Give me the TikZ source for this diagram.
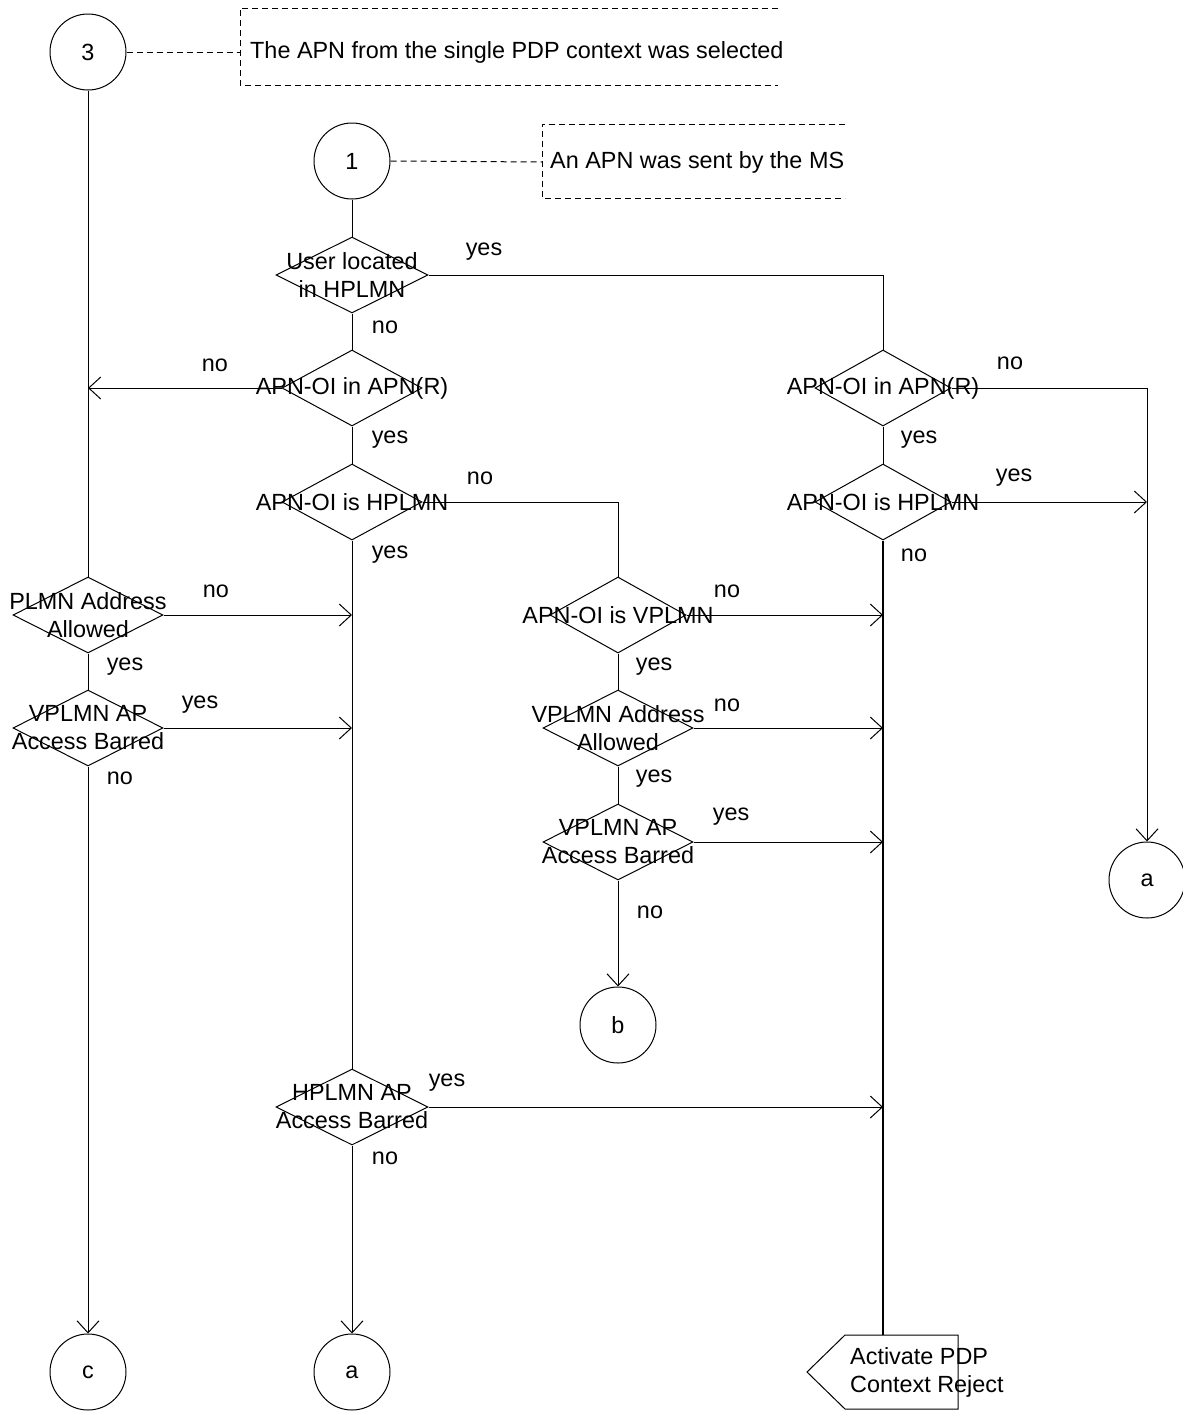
\documentclass[tikz,border=0pt]{standalone}
\usepackage{fontspec}
\setmainfont{Liberation Sans}
\usetikzlibrary{shapes.geometric,arrows.meta}
\begin{document}
\begin{tikzpicture}[x=1pt,y=-1pt,
  every node/.style={font=\fontsize{23.4}{28}\selectfont},
  conn/.style={line width=1pt},
  arr/.style={line width=1pt,-{Straight Barb[length=12pt,width=22pt]}},
  term/.style={circle,draw,line width=1pt,minimum size=76pt,inner sep=0pt},
  dec/.style={diamond,draw,line width=1pt,minimum width=#1,minimum height=76pt,inner sep=0pt},
  dec/.default=150pt,
  dtext/.style={align=center,inner sep=0pt},
  lbl/.style={inner sep=0pt},
  note/.style={dash pattern=on 6pt off 4pt,line width=1pt}
]
\useasboundingbox (0,0) rectangle (1183,1411);

% terminals
\node[term] (c3) at (88,52) {3};
\node[term] (c1) at (352,161) {1};
\node[term] (ar) at (1147,880) {a};
\node[term] (b) at (618,1025) {b};
\node[term] (c) at (88,1372) {c};
\node[term] (a2) at (352,1372) {a};

% notes
\coordinate (n3) at (240,52);
\node[lbl,anchor=west] (t3) at (250,52) {The APN from the single PDP context was selected};
\draw[note] (778,8) -- (240,8) -- (240,85) -- (778,85);
\draw[note] (c3.east) -- (n3);
\coordinate (n1) at (542,162);
\node[lbl,anchor=west] (t1) at (550,162) {An APN was sent by the MS};
\draw[note] (845,124) -- (542,124) -- (542,198) -- (845,198);
\draw[note] (c1.east) -- (n1);

% decisions
\node[dec=152pt] (d1) at (352,275) {};
\node[dtext] (d1t) at (d1) {User located\\in HPLMN};
\node[dec=140pt] (d2) at (352,388) {};
\node[dtext] (d2t) at (d2) {APN-OI in APN(R)};
\node[dec=140pt] (d3) at (352,502) {};
\node[dtext] (d3t) at (d3) {APN-OI is HPLMN};
\node[dec=136pt] (d2r) at (883,388) {};
\node[dtext] (d2rt) at (d2r) {APN-OI in APN(R)};
\node[dec=136pt] (d3r) at (883,502) {};
\node[dtext] (d3rt) at (d3r) {APN-OI is HPLMN};
\node[dec] (dp) at (88,615) {};
\node[dtext] (dpt) at (dp) {PLMN Address\\Allowed};
\node[dec] (dvb) at (88,728) {};
\node[dtext] (dvbt) at (dvb) {VPLMN AP\\Access Barred};
\node[dec=136pt] (dv1) at (618,615) {};
\node[dtext] (dv1t) at (dv1) {APN-OI is VPLMN};
\node[dec] (dva) at (618,728) {};
\node[dtext] (dvat) at (dva) {VPLMN Address\\Allowed};
\node[dec] (dvb2) at (618,842) {};
\node[dtext] (dvb2t) at (dvb2) {VPLMN AP\\Access Barred};
\node[dec=152pt] (dh) at (352,1107) {};
\node[dtext] (dht) at (dh) {HPLMN AP\\Access Barred};

% reject output
\coordinate (rejtop) at (883,1335);
\draw[line width=1pt] (845,1335) -- (958,1335) -- (958,1409) -- (845,1409) -- (807,1372) -- cycle;
\node[lbl,anchor=west,align=left] (rej) at (850,1372) {Activate PDP\\Context Reject};

% junction coordinates
\coordinate (j1) at (c3.south |- d2.west);
\coordinate (j2) at (ar.north |- d3r.east);
\coordinate (jp) at (d3.south |- dp.east);
\coordinate (jvb) at (d3.south |- dvb.east);
\coordinate (jv1) at (d3r.south |- dv1.east);
\coordinate (jva) at (d3r.south |- dva.east);
\coordinate (jvb2) at (d3r.south |- dvb2.east);
\coordinate (jh) at (d3r.south |- dh.east);

% connectors
\draw[conn] (c3.south) -- (dp.north);
\draw[conn] (c1.south) -- (d1.north);
\draw[conn] (d1.south) -- (d2.north);
\draw[conn] (d1.east) -| (d2r.north);
\draw[arr] (d2.west) -- (j1);
\draw[conn] (d2.south) -- (d3.north);
\draw[conn] (d3.east) -| (dv1.north);
\draw[conn] (d3.south) -- (dh.north);
\draw[arr] (d2r.east) -| (ar.north);
\draw[conn] (d2r.south) -- (d3r.north);
\draw[arr] (d3r.east) -- (j2);
\draw[line width=1.6pt] (d3r.south) -- (rejtop);
\draw[arr] (dp.east) -- (jp);
\draw[conn] (dp.south) -- (dvb.north);
\draw[arr] (dvb.east) -- (jvb);
\draw[arr] (dvb.south) -- (c.north);
\draw[arr] (dv1.east) -- (jv1);
\draw[conn] (dv1.south) -- (dva.north);
\draw[arr] (dva.east) -- (jva);
\draw[conn] (dva.south) -- (dvb2.north);
\draw[arr] (dvb2.east) -- (jvb2);
\draw[arr] (dvb2.south) -- (b.north);
\draw[arr] (dh.east) -- (jh);
\draw[arr] (dh.south) -- (a2.north);

% branch labels
\node[lbl] (l1) at (484,252) {yes};
\node[lbl] (l2) at (385,327) {no};
\node[lbl] (l3) at (215,365) {no};
\node[lbl] (l4) at (390,440) {yes};
\node[lbl] (l5) at (480,478) {no};
\node[lbl] (l6) at (390,555) {yes};
\node[lbl] (l7) at (1010,363) {no};
\node[lbl] (l8) at (919,440) {yes};
\node[lbl] (l9) at (1014,478) {yes};
\node[lbl] (l10) at (914,555) {no};
\node[lbl] (l11) at (216,591) {no};
\node[lbl] (l12) at (125,667) {yes};
\node[lbl] (l13) at (200,705) {yes};
\node[lbl] (l14) at (120,778) {no};
\node[lbl] (l15) at (727,591) {no};
\node[lbl] (l16) at (654,667) {yes};
\node[lbl] (l17) at (727,705) {no};
\node[lbl] (l18) at (654,779) {yes};
\node[lbl] (l19) at (731,817) {yes};
\node[lbl] (l20) at (650,912) {no};
\node[lbl] (l21) at (447,1083) {yes};
\node[lbl] (l22) at (385,1158) {no};
\end{tikzpicture}
\end{document}
